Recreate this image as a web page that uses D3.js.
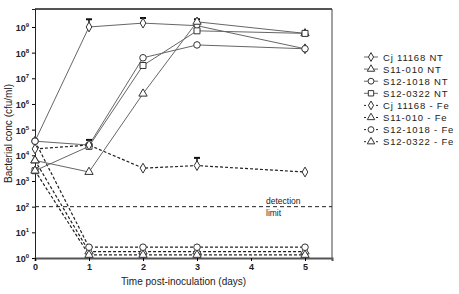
<!DOCTYPE html>
<html>
<head>
<meta charset="utf-8">
<style>
  body { margin: 0; background: #fff; }
  text { font-family: "Liberation Sans", Arial, sans-serif; fill: #222; }
</style>
</head>
<body>
<svg width="459" height="294"></svg>
<script src="https://cdn.jsdelivr.net/npm/d3@7"></script>
<script>
var days = [0, 1, 2, 3, 5];
var cjNT      = [4.55, 9.0, 9.15, 9.05, 8.15];
var s11NT     = [3.8, 3.35, 6.4, 9.2, 8.75];
var s1018NT   = [4.55, 4.4, 7.8, 8.3, 8.15];
var s0322NT   = [3.4, 4.35, 7.5, 8.85, 8.75];
var cjFe      = [4.25, 4.4, 3.5, 3.6, 3.35];
var s11Fe     = [3.8, 0.25, 0.25, 0.25, 0.25];
var s1018Fe   = [4.55, 0.42, 0.42, 0.42, 0.42];
var s0322Fe   = [3.4, 0.12, 0.12, 0.12, 0.12];
// upper error bar ends (log10), null = none
var cjNTErr   = [null, 9.3, 9.35, 9.3, null];
var s0322Err  = [null, 4.6, null, null, null];
var cjFeErr   = [null, null, null, 3.9, null];

var yTicks = [0, 1, 2, 3, 4, 5, 6, 7, 8, 9];
var xTicks = [0, 1, 2, 3, 4, 5];
var detectionLimit = 2;

var series = [
  { name: "Cj 11168 NT",    v: cjNT,    err: cjNTErr,  sym: "diamond",  dash: null },
  { name: "S11-010 NT",     v: s11NT,   err: null,     sym: "triangle", dash: null },
  { name: "S12-1018 NT",    v: s1018NT, err: null,     sym: "circle",   dash: null },
  { name: "S12-0322 NT",    v: s0322NT, err: s0322Err, sym: "square",   dash: null },
  { name: "Cj 11168 - Fe",  v: cjFe,    err: cjFeErr,  sym: "diamond",  dash: "3,2" },
  { name: "S11-010 - Fe",   v: s11Fe,   err: null,     sym: "triangle", dash: "3,2" },
  { name: "S12-1018 - Fe",  v: s1018Fe, err: null,     sym: "circle",   dash: "3,2" },
  { name: "S12-0322 - Fe",  v: s0322Fe, err: null,     sym: "triangle", dash: "3,2" }
];

var svg = d3.select("svg");
var pLeft = 35, pRight = 332, pTop = 9, pBottom = 258;

var x = d3.scaleLinear().domain([0, 5.5]).range([pLeft, pRight]);
var y = d3.scaleLinear().domain([0, 9.7]).range([pBottom, pTop]);

var symTypes = {
  diamond: d3.symbolDiamond, triangle: d3.symbolTriangle,
  circle: d3.symbolCircle, square: d3.symbolSquare
};
var symSize = { diamond: 28, triangle: 30, circle: 34, square: 36 };

// frame
svg.append("line").attr("x1", pLeft).attr("x2", pRight).attr("y1", pTop).attr("y2", pTop)
  .attr("stroke", "#555").attr("stroke-width", 2);
svg.append("line").attr("x1", pRight).attr("x2", pRight).attr("y1", pTop).attr("y2", pBottom)
  .attr("stroke", "#444").attr("stroke-width", 1);

// y axis
var yAxis = svg.append("g").attr("transform", "translate(" + pLeft + ",0)")
  .call(d3.axisLeft(y).tickValues(yTicks).tickSize(3).tickFormat(""));
yAxis.select(".domain").attr("stroke", "#222");
var yl = svg.append("g").selectAll("text").data(yTicks).enter().append("text")
  .attr("x", pLeft - 6).attr("y", function (d) { return y(d) + 4; })
  .attr("text-anchor", "end").style("font-size", "9px").style("font-weight", "bold").attr("fill", "#333");
yl.append("tspan").text("10");
yl.append("tspan").attr("dy", -4).style("font-size", "6px").text(function (d) { return d; });

// x axis
var xAxis = svg.append("g").attr("transform", "translate(0," + pBottom + ")")
  .call(d3.axisBottom(x).tickValues(xTicks).tickSize(3).tickPadding(3).tickFormat(d3.format("d")));
xAxis.select(".domain").attr("stroke", "#555").attr("stroke-width", 2);
xAxis.selectAll("text").style("font-size", "9px").style("font-weight", "bold")
  .style("font-family", "Liberation Sans, Arial, sans-serif").attr("fill", "#333");

// detection limit
svg.append("line").attr("x1", pLeft).attr("x2", pRight)
  .attr("y1", y(detectionLimit)).attr("y2", y(detectionLimit))
  .attr("stroke", "#222").attr("stroke-dasharray", "4,3");
svg.append("text").attr("x", 266).attr("y", y(detectionLimit) - 3)
  .style("font-size", "8.5px").text("detection");
svg.append("text").attr("x", 266).attr("y", y(detectionLimit) + 9)
  .style("font-size", "8.5px").text("limit");

var line = d3.line()
  .x(function (d, i) { return x(days[i]); })
  .y(function (d) { return y(d); });

// lines (draw Fe first so solid lines sit on top)
series.slice().reverse().forEach(function (s) {
  svg.append("path").attr("d", line(s.v)).attr("fill", "none")
    .attr("stroke", s.dash ? "#222" : "#666")
    .attr("stroke-width", s.dash ? 1.2 : 1)
    .attr("stroke-dasharray", s.dash);
});

// error bars
series.forEach(function (s) {
  if (!s.err) return;
  s.err.forEach(function (e, i) {
    if (e === null) return;
    svg.append("line").attr("x1", x(days[i])).attr("x2", x(days[i]))
      .attr("y1", y(s.v[i])).attr("y2", y(e)).attr("stroke", "#111").attr("stroke-width", 1.5);
    svg.append("line").attr("x1", x(days[i]) - 3).attr("x2", x(days[i]) + 3)
      .attr("y1", y(e)).attr("y2", y(e)).attr("stroke", "#111").attr("stroke-width", 2);
  });
});

// markers
series.forEach(function (s) {
  svg.append("g").selectAll("path").data(s.v).enter().append("path")
    .attr("transform", function (d, i) { return "translate(" + x(days[i]) + "," + y(d) + ")"; })
    .attr("d", d3.symbol().type(symTypes[s.sym]).size(symSize[s.sym]))
    .attr("fill", "#fff").attr("stroke", "#333").attr("stroke-width", 1);
});

// axis titles
svg.append("text").attr("transform", "translate(12," + (pTop + pBottom) / 2 + ") rotate(-90)")
  .attr("text-anchor", "middle").style("font-size", "10px").attr("fill", "#333")
  .text("Bacterial conc (cfu/ml)");
svg.append("text").attr("x", (pLeft + pRight) / 2).attr("y", 285)
  .attr("text-anchor", "middle").style("font-size", "10px").attr("fill", "#333")
  .text("Time post-inoculation (days)");

// legend
var lg = svg.append("g").selectAll("g").data(series).enter().append("g")
  .attr("transform", function (d, i) { return "translate(371," + (57 + i * 12.1) + ")"; });
lg.append("line").attr("x1", -7).attr("x2", 7)
  .attr("stroke", function (d) { return d.dash ? "#222" : "#666"; })
  .attr("stroke-dasharray", function (d) { return d.dash ? "2,2" : null; });
lg.append("path")
  .attr("d", function (d) { return d3.symbol().type(symTypes[d.sym]).size(symSize[d.sym] * 0.8)(); })
  .attr("fill", "#fff").attr("stroke", "#333");
lg.append("text").attr("x", 12).attr("y", 3.5)
  .style("font-size", "9.5px").style("letter-spacing", "0.8px").attr("fill", "#333")
  .text(function (d) { return d.name; });
</script>
</body>
</html>
